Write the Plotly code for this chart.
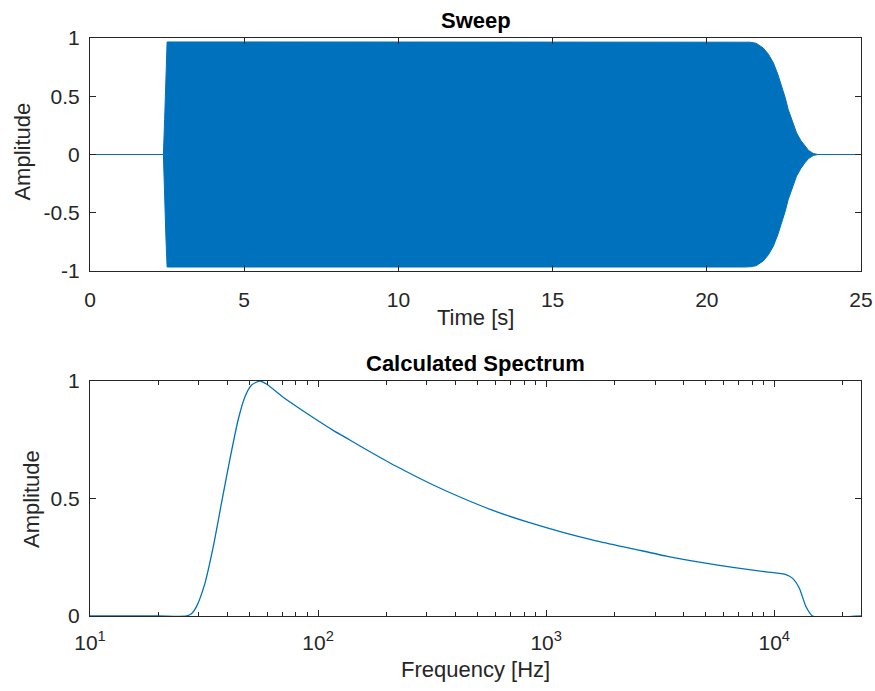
import plotly.graph_objects as go

# ---- Sweep envelope ----
sweep_t = [0.0, 2.38, 2.42, 2.46, 2.5, 5.0, 10.0, 15.0, 20.0, 21.2, 21.4, 21.6, 21.7, 21.83,
           22.0, 22.16, 22.3, 22.43, 22.54, 22.64, 22.78, 22.91, 23.05, 23.18, 23.3, 23.45,
           23.6, 25.0]
sweep_env = [0.0, 0.0, 0.3, 0.7, 0.966, 0.966, 0.966, 0.966, 0.966, 0.966, 0.964, 0.955,
             0.94, 0.914, 0.86, 0.786, 0.69, 0.585, 0.49, 0.386, 0.28, 0.186, 0.12, 0.071,
             0.035, 0.009, 0.0, 0.0]

# ---- Calculated spectrum ----
spec_f = [10, 20, 26.5, 28, 29.3, 31.9, 34.7, 37.7, 41.0, 44.6, 47.8, 51.1, 55.6, 59.4,
          70.3, 83.2, 98.4, 116.4, 137.7, 157.4, 220, 308, 431, 604, 846, 1183, 1656,
          2400, 3360, 4700, 6580, 9210, 11250, 12030, 12880, 13770, 14720, 24000]
spec_a = [0, 0, 0, 0.012, 0.04, 0.139, 0.295, 0.48, 0.664, 0.834, 0.933, 0.983, 1.0, 0.987,
          0.931, 0.882, 0.835, 0.79, 0.749, 0.716, 0.637, 0.565, 0.501, 0.444, 0.397, 0.356,
          0.32, 0.286, 0.255, 0.229, 0.207, 0.188, 0.176, 0.16, 0.118, 0.04, 0.0, 0.0]

top_xticks = [0, 5, 10, 15, 20, 25]
top_yticks = [-1, -0.5, 0, 0.5, 1]
top_ylabels = ["-1", "-0.5", "0", "0.5", "1"]
bot_xticks = [10, 100, 1000, 10000]
bot_xlabels = ["10<sup>1</sup>", "10<sup>2</sup>", "10<sup>3</sup>", "10<sup>4</sup>"]
bot_minor = [m * d for d in (10, 100, 1000) for m in range(2, 10)] + [20000]
bot_yticks = [0, 0.5, 1]
bot_ylabels = ["0", "0.5", "1"]

BLUE = "#0072BD"
AX = "#262626"
FONT = "Liberation Sans, Arial, sans-serif"

fig = go.Figure()

poly_x = sweep_t + sweep_t[::-1]
poly_y = sweep_env + [-v for v in sweep_env[::-1]]
fig.add_trace(go.Scatter(x=poly_x, y=poly_y, mode="lines", fill="toself",
                         fillcolor=BLUE, line=dict(color=BLUE, width=1),
                         xaxis="x", yaxis="y", showlegend=False, hoverinfo="skip"))

fig.add_trace(go.Scatter(x=spec_f, y=spec_a, mode="lines",
                         line=dict(color=BLUE, width=1.3, shape="spline", smoothing=0.6),
                         xaxis="x2", yaxis="y2", showlegend=False))
# invisible copy so the top-side log axis (mirrored minor ticks) is drawn
fig.add_trace(go.Scatter(x=spec_f, y=spec_a, mode="lines", opacity=0,
                         line=dict(width=0), xaxis="x3", yaxis="y2",
                         showlegend=False, hoverinfo="skip"))

common = dict(showline=True, linecolor=AX, linewidth=1, mirror="ticks", ticks="inside",
              tickcolor=AX, ticklen=6, tickwidth=1, showgrid=False, zeroline=False,
              automargin=False,
              tickfont=dict(family=FONT, size=21, color=AX))

fig.update_layout(
    width=875, height=691,
    margin=dict(l=90, r=14, t=38, b=75, autoexpand=False),
    paper_bgcolor="white", plot_bgcolor="white",
    xaxis=dict(domain=[0, 1], anchor="y", range=[0, 25], tickvals=top_xticks,
               ticklabelstandoff=10, **common),
    yaxis=dict(domain=[0.5969, 1], anchor="x", range=[-1, 1], tickvals=top_yticks,
               ticktext=top_ylabels, ticklabelstandoff=5, **common),
    xaxis2=dict(domain=[0, 1], anchor="y2", type="log", range=[1, 4.3802],
                tickvals=bot_xticks, ticktext=bot_xlabels, ticklabelstandoff=8,
                minor=dict(tickvals=bot_minor, ticks="inside", ticklen=4, tickcolor=AX),
                **common),
    xaxis3=dict(overlaying="x2", anchor="y2", side="top", type="log", range=[1, 4.3802],
                tickvals=bot_xticks, showticklabels=False, ticks="inside", ticklen=6,
                tickcolor=AX, showline=False, showgrid=False, zeroline=False,
                automargin=False,
                minor=dict(tickvals=bot_minor, ticks="inside", ticklen=4, tickcolor=AX)),
    yaxis2=dict(domain=[0, 0.4066], anchor="x2", range=[0, 1], tickvals=bot_yticks,
                ticktext=bot_ylabels, ticklabelstandoff=5, **common),
)

def ann(text, x, y, size=22, bold=False, angle=0):
    fig.add_annotation(text=f"<b>{text}</b>" if bold else text, x=x, y=y,
                       xref="paper", yref="paper", showarrow=False, textangle=angle,
                       xanchor="center", yanchor="middle",
                       font=dict(family=FONT, size=size, color="black" if bold else AX))

ann("Sweep", 0.5, 1.031, size=22, bold=True)
ann("Calculated Spectrum", 0.5, 0.436, size=22, bold=True)
ann("Time [s]", 0.5, 0.517)
ann("Frequency [Hz]", 0.5, -0.0934)
ann("Amplitude", -0.0869, 0.8035, angle=-90)
ann("Amplitude", -0.0765, 0.2024, angle=-90)

# remove the browser's default 8px body margin so the figure fills the window exactly
fig.write_html("out.html", config={"displayModeBar": False},
               post_script="document.body.style.margin='0';document.body.style.overflow='hidden';")
